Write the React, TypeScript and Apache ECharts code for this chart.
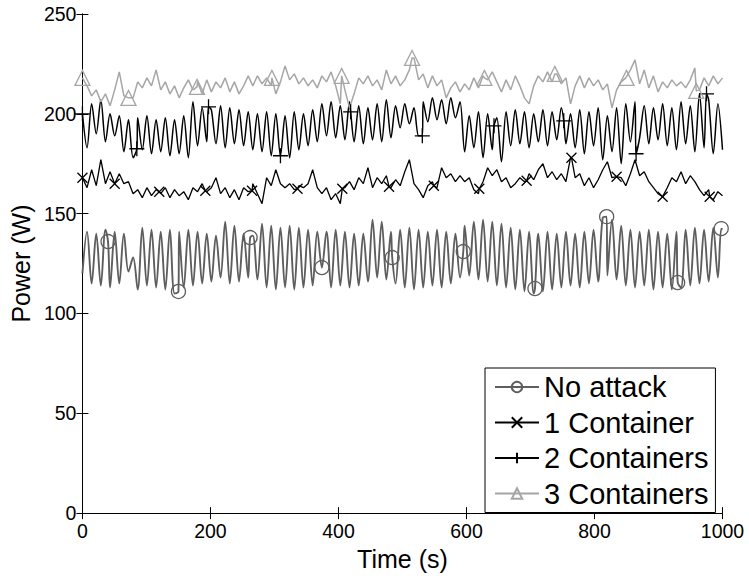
import React, { useEffect, useRef } from 'react';
import * as echarts from 'echarts';

// ---------- data ----------
const SERIES_NAMES = ['No attack', '1 Container', '2 Containers', '3 Containers'];
const X_MIN = 0;
const X_MAX = 1000;
const X_INTERVAL = 200;
const Y_MIN = 0;
const Y_MAX = 250;
const Y_INTERVAL = 50;
// samples are equally spaced from 0 s to 1000 s (140 samples)
const SAMPLE_STEP = 1000 / 139;

const noAttack = [
  120, 141, 115, 140, 114, 142, 113, 141, 115, 140,
  121, 128, 112, 143, 114, 142, 113, 141, 112, 142,
  110, 141, 113, 142, 114, 141, 115, 140, 116, 139,
  118, 146, 115, 144, 116, 140, 118, 139, 117, 145,
  113, 144, 112, 143, 113, 144, 112, 143, 113, 142,
  114, 141, 116, 141, 113, 142, 114, 141, 113, 140,
  114, 140, 116, 147, 118, 146, 117, 141, 115, 142,
  113, 143, 112, 142, 113, 141, 114, 142, 113, 141,
  115, 140, 118, 144, 119, 146, 117, 147, 116, 146,
  114, 145, 113, 143, 112, 142, 111, 141, 110, 140,
  111, 141, 112, 140, 113, 141, 114, 140, 113, 141,
  115, 142, 116, 148, 119, 147, 117, 144, 114, 142,
  113, 141, 114, 142, 112, 141, 113, 140, 112, 141,
  113, 142, 114, 143, 115, 142, 116, 143, 118, 142,
];

const oneContainer = [
  168, 163, 172, 164, 177, 165, 171, 163, 170, 165,
  166, 160, 162, 158, 163, 159, 162, 160, 163, 158,
  162, 159, 161, 157, 163, 161, 165, 161, 163, 168,
  160, 163, 158, 162, 157, 163, 161, 165, 160, 155,
  168, 164, 172, 165, 163, 165, 162, 164, 163, 165,
  172, 163, 160, 163, 157, 160, 155, 163, 166, 162,
  168, 165, 173, 163, 168, 165, 169, 163, 167, 164,
  171, 177, 165, 162, 158, 164, 166, 163, 173, 168,
  170, 166, 169, 166, 168, 162, 160, 166, 173, 169,
  172, 166, 168, 163, 165, 168, 166, 170, 167, 172,
  175, 168, 171, 167, 170, 166, 178, 168, 170, 164,
  168, 163, 167, 172, 176, 168, 166, 168, 164, 170,
  177, 169, 171, 166, 163, 160, 158, 163, 168, 166,
  171, 165, 169, 166, 162, 159, 162, 157, 161, 159,
];

const twoContainers = [
  200, 183, 205, 190, 207, 186, 200, 189, 199, 181,
  197, 178, 198, 182, 199, 180, 197, 181, 198, 179,
  197, 180, 199, 178, 206, 184, 203, 186, 202, 185,
  204, 183, 203, 185, 202, 184, 201, 182, 200, 181,
  201, 179, 200, 180, 199, 178, 201, 182, 200, 184,
  202, 186, 205, 189, 206, 188, 204, 187, 206, 186,
  204, 185, 203, 187, 205, 186, 207, 188, 204, 193,
  205, 195, 203, 189, 206, 196, 208, 197, 207, 195,
  208, 198, 206, 181, 199, 183, 201, 178, 200, 182,
  198, 176, 201, 184, 202, 185, 201, 183, 200, 186,
  202, 184, 201, 187, 203, 185, 200, 183, 202, 180,
  201, 184, 203, 177, 199, 181, 203, 175, 205, 186,
  206, 188, 204, 185, 203, 187, 205, 184, 203, 182,
  206, 185, 204, 181, 210, 183, 207, 180, 205, 182,
];

const threeContainers = [
  218, 214, 209, 212, 206, 210, 204, 212, 221, 209,
  205, 208, 216, 213, 218, 214, 222, 212, 216, 210,
  214, 208, 213, 217, 212, 216, 210, 217, 211, 216,
  213, 218, 211, 216, 210, 214, 219, 214, 219, 215,
  218, 214, 210, 216, 224, 217, 220, 215, 218, 214,
  217, 213, 219, 216, 221, 214, 205, 212, 203, 210,
  218, 215, 219, 214, 217, 212, 222, 215, 219, 214,
  217, 222, 228, 217, 220, 213, 219, 214, 217, 208,
  213, 216, 211, 215, 212, 218, 213, 219, 217, 221,
  216, 211, 217, 212, 219, 214, 208, 205, 214, 219,
  216, 221, 216, 220, 215, 218, 205, 214, 219, 213,
  218, 214, 217, 212, 215, 203, 212, 216, 218, 222,
  227, 215, 222, 213, 219, 211, 216, 213, 217, 214,
  216, 213, 217, 223, 212, 218, 214, 219, 215, 218,
];

// marker positions (time, value)
const noAttackMarkT = [40, 150, 262, 374, 484, 595, 707, 819, 930, 998];
const noAttackMarkV = [136, 111, 138, 123, 128, 131, 112.5, 148.5, 115.5, 142.5];
const oneMarkT = [0, 50, 120, 192, 265, 336, 406, 479, 549, 620, 694, 764, 835, 907, 980];
const oneMarkV = [168, 165, 161, 161.5, 161.5, 162.5, 162.5, 163.5, 164, 162.5, 166.5, 178, 168.5, 158.5, 158.5];
const twoMarkT = [0, 85, 197, 309, 419, 531, 643, 752, 865, 975];
const twoMarkV = [200, 182.5, 203.5, 179, 201, 189, 194, 196.5, 180, 210];
const threeMarkT = [0, 72, 179, 296, 405, 515, 628, 738, 850, 959];
const threeMarkV = [218, 208, 213.5, 218, 219, 228, 218, 220, 218, 211.5];

// ---------- helpers ----------
function build(values: number[], mt: number[], mv: number[]) {
  const pts: any[] = values.map((v, i) => ({ value: [i * SAMPLE_STEP, v], symbol: 'none' }));
  mt.forEach((t, k) => {
    const j = pts.findIndex((p) => Math.abs(p.value[0] - t) < 0.6);
    if (j >= 0) pts[j] = { value: [pts[j].value[0], mv[k]] };
    else pts.push({ value: [t, mv[k]] });
  });
  pts.sort((a, b) => a.value[0] - b.value[0]);
  return pts;
}

const PLUS = 'path://M5,0 L5,10 M0,5 L10,5';
const CROSS = 'path://M0,0 L10,10 M10,0 L0,10';
const FONT = "'Liberation Sans', Arial, Helvetica, sans-serif";

export default function App() {
  const ref = useRef<HTMLDivElement>(null);

  useEffect(() => {
    if (!ref.current) return;
    const chart = echarts.init(ref.current, undefined, { renderer: 'svg' });

    const mk = (
      name: string,
      values: number[],
      mt: number[],
      mv: number[],
      color: string,
      symbol: string,
      symbolSize: number,
      width: number,
      smooth: number
    ) => ({
      name,
      type: 'line',
      data: build(values, mt, mv),
      symbol,
      symbolSize,
      showSymbol: true,
      showAllSymbol: true,
      smooth,
      clip: false,
      lineStyle: { color, width },
      itemStyle: { color: 'rgba(255,255,255,0)', borderColor: color, borderWidth: 1.3 },
      emphasis: { disabled: true },
      z: 2,
    });

    const axisCommon = {
      axisLine: { show: true, lineStyle: { color: '#000', width: 1 } },
      axisTick: { show: true, inside: true, length: 6, lineStyle: { color: '#000', width: 1 } },
      splitLine: { show: false },
    };

    chart.setOption({
      animation: false,
      backgroundColor: '#fff',
      textStyle: { fontFamily: FONT },
      grid: { left: 81.7, right: 26.5, top: 14, bottom: 57.4, containLabel: false },
      legend: {
        data: SERIES_NAMES,
        orient: 'vertical',
        left: 485,
        top: 368,
        padding: [4, 7, 4, 9],
        itemWidth: 44,
        itemHeight: 13,
        itemGap: 5.5,
        backgroundColor: '#fff',
        borderColor: '#000',
        borderWidth: 1,
        borderRadius: 0,
        textStyle: { fontSize: 29, color: '#000', fontFamily: FONT, lineHeight: 30 },
      },
      xAxis: [
        {
          type: 'value',
          min: X_MIN,
          max: X_MAX,
          interval: X_INTERVAL,
          name: 'Time (s)',
          nameLocation: 'middle',
          nameGap: 19,
          nameTextStyle: { fontSize: 25, color: '#000', fontFamily: FONT },
          axisLabel: {
            fontSize: 19.5,
            color: '#000',
            margin: 8,
            fontFamily: FONT,
            formatter: (v: number) => String(v),
          },
          ...axisCommon,
        },
        {
          type: 'value',
          position: 'top',
          min: X_MIN,
          max: X_MAX,
          interval: X_INTERVAL,
          axisLabel: { show: false },
          ...axisCommon,
        },
      ],
      yAxis: [
        {
          type: 'value',
          min: Y_MIN,
          max: Y_MAX,
          interval: Y_INTERVAL,
          name: 'Power (W)',
          nameLocation: 'middle',
          nameGap: 46,
          nameTextStyle: { fontSize: 25, color: '#000', fontFamily: FONT },
          axisLabel: {
            fontSize: 19.5,
            color: '#000',
            margin: 6,
            fontFamily: FONT,
            formatter: (v: number) => String(v),
          },
          ...axisCommon,
        },
        {
          type: 'value',
          position: 'right',
          min: Y_MIN,
          max: Y_MAX,
          interval: Y_INTERVAL,
          axisLabel: { show: false },
          ...axisCommon,
        },
      ],
      series: [
        mk(SERIES_NAMES[0], noAttack, noAttackMarkT, noAttackMarkV, '#5e5e5e', 'circle', 14, 1.9, 0.35),
        mk(SERIES_NAMES[1], oneContainer, oneMarkT, oneMarkV, '#000000', CROSS, 10, 1.3, 0),
        mk(SERIES_NAMES[2], twoContainers, twoMarkT, twoMarkV, '#000000', PLUS, 15, 1.5, 0.3),
        mk(SERIES_NAMES[3], threeContainers, threeMarkT, threeMarkV, '#a6a6a6', 'triangle', 15, 1.5, 0),
      ],
    });

    return () => chart.dispose();
  }, []);

  return (
    <div
      ref={ref}
      style={{ position: 'fixed', left: 0, top: 0, width: 749, height: 576, background: '#fff' }}
    />
  );
}
